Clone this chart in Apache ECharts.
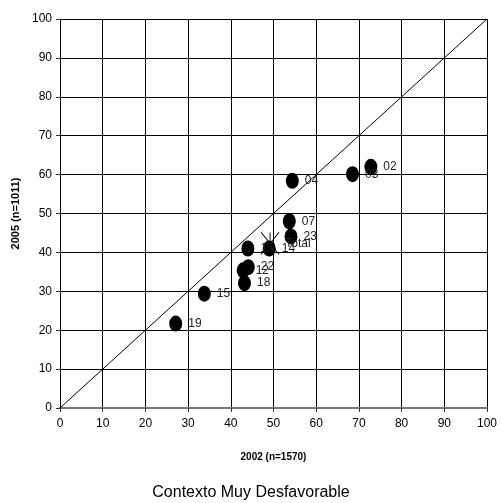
<!DOCTYPE html>
<html><head><meta charset="utf-8">
<script src="https://cdn.jsdelivr.net/npm/echarts@6/dist/echarts.min.js"></script>
<style>html,body{margin:0;padding:0;background:#fff}#c{width:502px;height:503px}</style>
</head><body><div id="c"></div>
<script>
const labels = ['02','03','04','07','23','14','13','22','12','18','15','19'];
const x2002 = [72.8,68.5,54.4,53.7,54.1,49.0,44.0,44.1,42.9,43.2,33.8,27.1];
const y2005 = [62.0,60.1,58.4,48.0,44.1,41.0,41.0,36.2,35.4,32.1,29.4,21.7];
const totalPoint = [49.2, 42.3];
const ticks = [0,10,20,30,40,50,60,70,80,90,100];

const chart = echarts.init(document.getElementById('c'));
const font = 'Liberation Sans, Arial, sans-serif';
chart.setOption({
  animation:false,
  grid:{left:60,right:15,top:19,bottom:95},
  title:{text:'Contexto Muy Desfavorable',left:'center',top:480,textStyle:{fontFamily:font,fontSize:16,fontWeight:'normal',color:'#000'}},
  xAxis:{type:'value',min:0,max:100,interval:10,
    name:'2002 (n=1570)',nameLocation:'middle',nameGap:44,
    nameTextStyle:{fontFamily:font,fontSize:10,fontWeight:'bold',color:'#000'},
    axisLine:{show:true,lineStyle:{color:'#777',width:2}},
    axisTick:{show:true,inside:false,length:4,lineStyle:{color:'#333'}},
    axisLabel:{fontFamily:font,fontSize:12,color:'#000',margin:10},
    splitLine:{show:true,lineStyle:{color:'#000',width:1}}},
  yAxis:{type:'value',min:0,max:100,interval:10,
    name:'2005 (n=1011)',nameLocation:'middle',nameGap:36,nameRotate:90,
    nameTextStyle:{fontFamily:font,fontSize:11,fontWeight:'bold',color:'#000'},
    axisLine:{show:true,lineStyle:{color:'#000',width:1}},
    axisTick:{show:true,inside:false,length:4,lineStyle:{color:'#333'}},
    axisLabel:{fontFamily:font,fontSize:12,color:'#000',margin:8},
    splitLine:{show:true,lineStyle:{color:'#000',width:1}}},
  series:[
    {type:'line',data:[[0,0],[100,100]],symbol:'none',lineStyle:{color:'#000',width:1},silent:true,z:1},
    {type:'scatter',data:x2002.map((v,i)=>({value:[v,y2005[i]],name:labels[i]})),
      symbol:'circle',symbolSize:[13,16],itemStyle:{color:'#000',opacity:1},z:3,
      label:{show:true,position:'right',distance:6,formatter:p=>p.name,fontFamily:font,fontSize:12,color:'#222'}},
    {type:'scatter',data:[{value:totalPoint,name:'Total'}],
      symbol:'path://M0,0L10,12M10,0L0,12M5,0L5,12',symbolSize:[18,22],
      itemStyle:{color:'none',borderColor:'#000',borderWidth:1,opacity:1},z:4,
      label:{show:true,position:'right',distance:4,formatter:'Total',fontFamily:font,fontSize:12,color:'#222'}}
  ]
});
</script></body></html>
